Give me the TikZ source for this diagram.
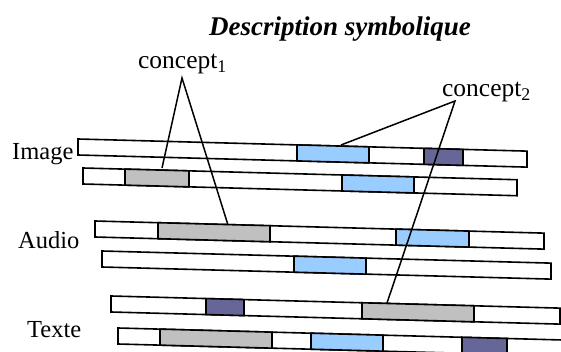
\documentclass[tikz,border=0pt]{standalone}
\usepackage{fontspec}
\setmainfont{Liberation Serif}
\definecolor{segblue}{RGB}{153,204,255}
\definecolor{seggray}{RGB}{192,192,192}
\definecolor{segpurple}{RGB}{102,102,153}
\tikzset{
  barline/.style={draw=black, line width=1.6pt, line join=miter},
  conn/.style={draw=black, line width=1.5pt},
  lbl/.style={inner sep=0pt, font=\fontsize{24.5}{28}\selectfont},
  conc/.style={inner sep=0pt, font=\fontsize{25.5}{28}\selectfont},
  ttl/.style={inner sep=0pt, font=\fontsize{27}{30}\selectfont\bfseries\itshape}
}
% #1 xL, #2 yT, #3 xR
\newcommand\slbar[3]{%
  \draw[barline, fill=white] (#1,#2) -- (#3,{#2+0.027*(#3-#1)}) -- (#3,{#2+16+0.027*(#3-#1)}) -- (#1,{#2+16}) -- cycle;}
% #1 xL, #2 yT, #3 xa, #4 xb, #5 colour
\newcommand\slseg[5]{%
  \draw[barline, fill=#5] (#3,{#2+0.027*(#3-#1)}) -- (#4,{#2+0.027*(#4-#1)}) -- (#4,{#2+16+0.027*(#4-#1)}) -- (#3,{#2+16+0.027*(#3-#1)}) -- cycle;}
\begin{document}
\begin{tikzpicture}[x=1pt, y=-1pt]
\useasboundingbox (0,0) rectangle (561,352);
% title and labels
\node[ttl, anchor=base] (title) at (340,36) {Description symbolique};
\node[conc, anchor=base] (concept1) at (182.5,69) {concept\textsubscript{1}};
\node[conc, anchor=base] (concept2) at (486.5,97) {concept\textsubscript{2}};
\node[lbl, anchor=base west] (image) at (12,160) {Image};
\node[lbl, anchor=base west] (audio) at (18,248) {Audio};
\node[lbl, anchor=base west] (texte) at (27,337) {Texte};
% Image bars
\slbar{78}{139}{527}
\slseg{78}{139}{297}{369}{segblue}
\slseg{78}{139}{424}{463}{segpurple}
\slbar{83}{168}{517}
\slseg{83}{168}{125}{189}{seggray}
\slseg{83}{168}{342}{414}{segblue}
% Audio bars
\slbar{95}{221}{544}
\slseg{95}{221}{158}{270}{seggray}
\slseg{95}{221}{396}{469}{segblue}
\slbar{102}{251}{551}
\slseg{102}{251}{294}{366}{segblue}
% Texte bars
\slbar{111}{296}{560}
\slseg{111}{296}{206}{244}{segpurple}
\slseg{111}{296}{362}{474}{seggray}
\slbar{118}{328}{580}
\slseg{118}{328}{160}{272}{seggray}
\slseg{118}{328}{311}{383}{segblue}
\slseg{118}{328}{462}{507}{segpurple}
% connectors
\coordinate (c1apex) at (182,78);
\coordinate (c1a) at (162,168);
\coordinate (c1b) at (228,225);
\coordinate (c2apex) at (455,101);
\coordinate (c2a) at (341,145);
\coordinate (c2b) at (387,303);
\draw[conn] (c1a) -- (c1apex) -- (c1b);
\draw[conn] (c2a) -- (c2apex) -- (c2b);
\end{tikzpicture}
\end{document}
